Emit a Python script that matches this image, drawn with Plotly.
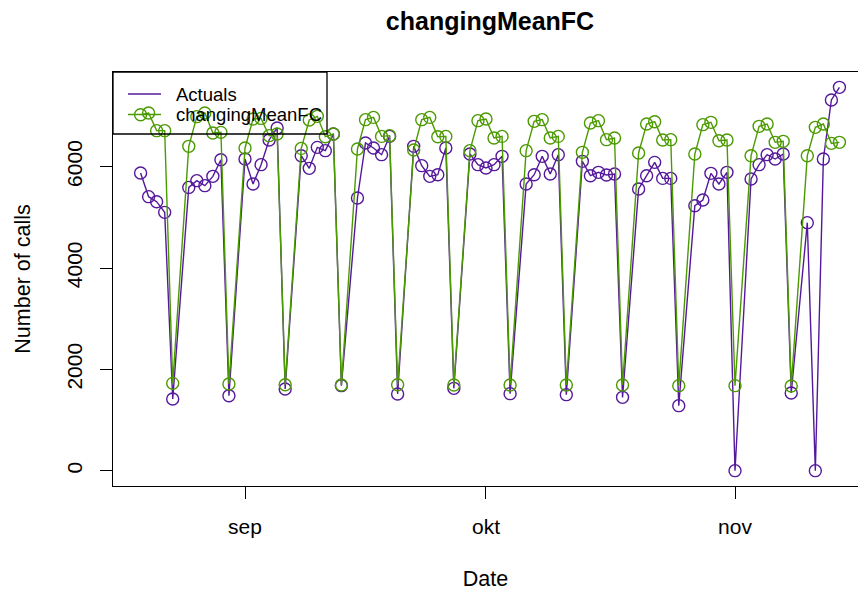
import plotly.graph_objects as go

dates = [
    "2014-08-19", "2014-08-20", "2014-08-21", "2014-08-22", "2014-08-23",
    "2014-08-25", "2014-08-26", "2014-08-27", "2014-08-28", "2014-08-29", "2014-08-30",
    "2014-09-01", "2014-09-02", "2014-09-03", "2014-09-04", "2014-09-05", "2014-09-06",
    "2014-09-08", "2014-09-09", "2014-09-10", "2014-09-11", "2014-09-12", "2014-09-13",
    "2014-09-15", "2014-09-16", "2014-09-17", "2014-09-18", "2014-09-19", "2014-09-20",
    "2014-09-22", "2014-09-23", "2014-09-24", "2014-09-25", "2014-09-26", "2014-09-27",
    "2014-09-29", "2014-09-30", "2014-10-01", "2014-10-02", "2014-10-03", "2014-10-04",
    "2014-10-06", "2014-10-07", "2014-10-08", "2014-10-09", "2014-10-10", "2014-10-11",
    "2014-10-13", "2014-10-14", "2014-10-15", "2014-10-16", "2014-10-17", "2014-10-18",
    "2014-10-20", "2014-10-21", "2014-10-22", "2014-10-23", "2014-10-24", "2014-10-25",
    "2014-10-27", "2014-10-28", "2014-10-29", "2014-10-30", "2014-10-31", "2014-11-01",
    "2014-11-03", "2014-11-04", "2014-11-05", "2014-11-06", "2014-11-07", "2014-11-08",
    "2014-11-10", "2014-11-11", "2014-11-12", "2014-11-13", "2014-11-14",
]

actuals = [
    5876, 5408, 5309, 5098, 1415,
    5591, 5724, 5625, 5809, 6138, 1480,
    6152, 5659, 6040, 6527, 6764, 1612,
    6217, 5967, 6381, 6316, 6645, 1678,
    5382, 6468, 6369, 6237, 6598, 1513,
    6401, 6020, 5809, 5842, 6369, 1625,
    6250, 6040, 5974, 6040, 6204, 1520,
    5658, 5842, 6204, 5856, 6237, 1500,
    6105, 5822, 5888, 5836, 5856, 1447,
    5560, 5822, 6085, 5769, 5769, 1283,
    5230, 5343, 5868, 5658, 5888, 0,
    5757, 6040, 6237, 6151, 6250, 1533,
    4895, 0, 6152, 7316, 7566,
]

forecast = [
    7026, 7060, 6711, 6711, 1723,
    6401, 6987, 7060, 6665, 6677, 1711,
    6369, 6941, 6953, 6612, 6645, 1697,
    6361, 6922, 6993, 6592, 6645, 1691,
    6349, 6928, 6973, 6598, 6612, 1697,
    6330, 6928, 6973, 6592, 6598, 1691,
    6316, 6908, 6941, 6566, 6598, 1691,
    6316, 6895, 6928, 6566, 6598, 1691,
    6283, 6862, 6908, 6533, 6566, 1691,
    6270, 6842, 6888, 6527, 6533, 1678,
    6250, 6829, 6875, 6513, 6527, 1678,
    6217, 6796, 6842, 6480, 6500, 1671,
    6217, 6776, 6842, 6460, 6480,
]

month_ticks = ["2014-09-01", "2014-10-01", "2014-11-01"]
month_labels = ["sep", "okt", "nov"]
y_ticks = [0, 2000, 4000, 6000]
series_names = ["Actuals", "changingMeanFC"]
colors = ["#55189c", "#4b9a00"]

W, H = 858, 594
L, R, T, B = 113, 858, 72, 486
FONT = "Liberation Sans, Arial, Helvetica, sans-serif"


def px(x):
    return (x - L) / (R - L)


def py(y):
    return (B - y) / (B - T)


fig = go.Figure()
for name, vals, col in zip(series_names, [actuals, forecast], colors):
    fig.add_trace(go.Scatter(
        x=dates, y=vals, name=name, mode="lines+markers",
        line=dict(color=col, width=1.4),
        marker=dict(symbol="circle-open", size=12, color=col, line=dict(width=1.4, color=col)),
        showlegend=False,
    ))

# legend (R-style, transparent box at top-left)
shapes = [dict(type="rect", xref="paper", yref="paper", x0=px(113), x1=px(327),
               y0=py(134), y1=py(72), line=dict(color="black", width=1.3),
               fillcolor="rgba(0,0,0,0)")]
annotations = []
for i, (name, col) in enumerate(zip(series_names, colors)):
    yy = 94 + i * 20.5
    shapes.append(dict(type="line", xref="paper", yref="paper", x0=px(128), x1=px(161),
                       y0=py(yy), y1=py(yy), line=dict(color=col, width=1.4)))
    annotations.append(dict(text=name, xref="paper", yref="paper", x=px(174), y=py(yy),
                            xanchor="left", yanchor="middle", showarrow=False,
                            font=dict(family=FONT, size=18.5, color="black")))

fig.update_layout(
    width=W, height=H,
    margin=dict(l=L, r=W - R, t=T, b=H - B, pad=0, autoexpand=False),
    paper_bgcolor="white", plot_bgcolor="white",
    font=dict(family=FONT, size=21, color="black"),
    title=dict(text="<b>changingMeanFC</b>", x=490 / W, xref="container", xanchor="center",
               y=1 - 21 / H, yref="container", yanchor="middle",
               font=dict(family=FONT, size=25, color="black")),
    shapes=shapes, annotations=annotations,
    xaxis=dict(type="date", range=["2014-08-15 13:36", "2014-11-16 07:29"],
               tickmode="array", tickvals=month_ticks, ticktext=month_labels,
               ticks="outside", ticklen=12, tickwidth=1.3, tickcolor="black",
               showline=True, linecolor="black", linewidth=1.3, mirror=True,
               showgrid=False, zeroline=False, ticklabelstandoff=10, automargin=False,
               tickfont=dict(size=21),
               title=dict(text="Date", standoff=33, font=dict(size=21.5))),
    yaxis=dict(range=[-302.6, 7868.6], tickmode="array", tickvals=y_ticks,
               ticktext=[str(v) for v in y_ticks], tickangle=-90,
               ticks="outside", ticklen=12, tickwidth=1.3, tickcolor="black",
               showline=True, linecolor="black", linewidth=1.3, mirror=False,
               showgrid=False, zeroline=False, ticklabelstandoff=9, automargin=False,
               tickfont=dict(size=21),
               title=dict(text="Number of calls", standoff=26, font=dict(size=21.5))),
)

fig.write_html("out.html", config={"displayModeBar": False},
               post_script="document.body.style.margin='0';")
